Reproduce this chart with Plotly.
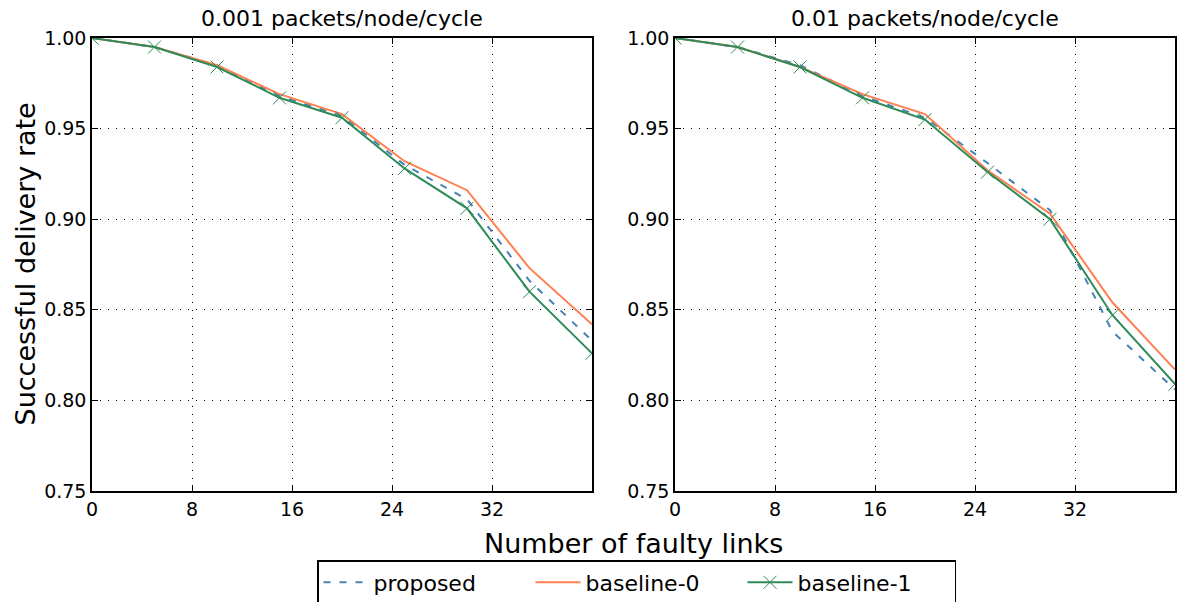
import plotly.graph_objects as go

faulty_links = [0, 5, 10, 15, 20, 25, 30, 35, 40]

titles = ["0.001 packets/node/cycle", "0.01 packets/node/cycle"]

# left panel (0.001 packets/node/cycle)
proposed_001 = [1.0, 0.995, 0.985, 0.968, 0.957, 0.930, 0.911, 0.866, 0.833]
baseline0_001 = [1.0, 0.995, 0.985, 0.969, 0.958, 0.932, 0.916, 0.873, 0.842]
baseline1_001 = [1.0, 0.995, 0.984, 0.967, 0.956, 0.928, 0.906, 0.860, 0.826]

# right panel (0.01 packets/node/cycle)
proposed_01 = [1.0, 0.995, 0.985, 0.968, 0.956, 0.931, 0.905, 0.838, 0.806]
baseline0_01 = [1.0, 0.995, 0.984, 0.969, 0.958, 0.927, 0.903, 0.854, 0.817]
baseline1_01 = [1.0, 0.995, 0.984, 0.967, 0.955, 0.926, 0.900, 0.847, 0.809]

x_ticks = [0, 8, 16, 24, 32]
y_ticks = [0.75, 0.80, 0.85, 0.90, 0.95, 1.00]

BLUE = "#4682b4"
ORANGE = "#ff7f50"
GREEN = "#2e8b57"
FONT = "DejaVu Sans"

fig = go.Figure()

panels = [
    (proposed_001, baseline0_001, baseline1_001, "x", "y"),
    (proposed_01, baseline0_01, baseline1_01, "x2", "y2"),
]
for i, (p, b0, b1, xa, ya) in enumerate(panels):
    show = i == 0
    fig.add_trace(go.Scatter(x=faulty_links, y=p, mode="lines", name="proposed",
                             line=dict(color=BLUE, width=2, dash="7px,9px"),
                             xaxis=xa, yaxis=ya, showlegend=show))
    fig.add_trace(go.Scatter(x=faulty_links, y=b0, mode="lines", name="baseline-0",
                             line=dict(color=ORANGE, width=2),
                             xaxis=xa, yaxis=ya, showlegend=show))
    fig.add_trace(go.Scatter(x=faulty_links, y=b1, mode="lines+markers", name="baseline-1",
                             line=dict(color=GREEN, width=2),
                             marker=dict(symbol="x-thin", size=13,
                                         line=dict(color=GREEN, width=1)),
                             xaxis=xa, yaxis=ya, showlegend=show))

axis_common = dict(
    showline=True, linecolor="black", linewidth=1.5, mirror="ticks",
    ticks="inside", ticklen=6, tickwidth=1.2, tickcolor="black",
    showgrid=True, gridcolor="black", gridwidth=1, griddash="1px,7px",
    zeroline=False, tickfont=dict(family=FONT, size=19, color="black"),
)

w = 1083.0
h = 453.0
fig.update_layout(
    width=1179, height=602,
    margin=dict(l=92, r=4, t=38, b=111, autoexpand=False),
    paper_bgcolor="white", plot_bgcolor="white",
    font=dict(family=FONT, color="black"),
    xaxis=dict(domain=[0, 500 / w], range=[0, 40], tickvals=x_ticks, **axis_common),
    xaxis2=dict(domain=[583 / w, 1], range=[0, 40], tickvals=x_ticks, **axis_common),
    yaxis=dict(range=[0.75, 1.0], tickvals=y_ticks, tickformat=".2f", anchor="x", **axis_common),
    yaxis2=dict(range=[0.75, 1.0], tickvals=y_ticks, tickformat=".2f", anchor="x2", **axis_common),
    legend=dict(orientation="h", x=(317 - 92) / w, xanchor="left",
                y=(491 - 560) / h, yanchor="top",
                bordercolor="black", borderwidth=1.5, bgcolor="white",
                font=dict(family=FONT, size=22, color="black"),
                entrywidth=152, itemwidth=45),
    annotations=[
        dict(text=titles[0], xref="paper", yref="paper", x=250 / w, y=1.0, yshift=20,
             xanchor="center", yanchor="middle", showarrow=False,
             font=dict(family=FONT, size=22)),
        dict(text=titles[1], xref="paper", yref="paper", x=(583 + 250) / w, y=1.0, yshift=20,
             xanchor="center", yanchor="middle", showarrow=False,
             font=dict(family=FONT, size=22)),
        dict(text="Number of faulty links", xref="paper", yref="paper", x=0.5,
             y=(491 - 543) / h, xanchor="center", yanchor="middle", showarrow=False,
             font=dict(family=FONT, size=27)),
        dict(text="Successful delivery rate", xref="paper", yref="paper", x=0, xshift=-67,
             y=0.5, xanchor="center", yanchor="middle", textangle=-90, showarrow=False,
             font=dict(family=FONT, size=27)),
    ],
)

fig.write_html("out.html", post_script="document.body.style.margin='0';",
               config={"displayModeBar": False})
